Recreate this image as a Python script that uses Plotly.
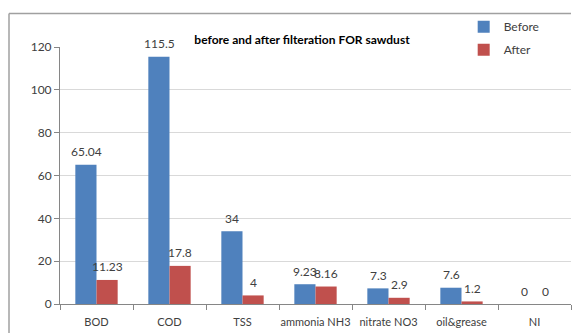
import plotly.graph_objects as go

# Water-quality parameters measured before and after sawdust filtration
categories = ["BOD", "COD", "TSS", "ammonia NH3", "nitrate NO3", "oil&grease", "NI"]
before_vals = [65.04, 115.5, 34, 9.23, 7.3, 7.6, 0]
after_vals = [11.23, 17.8, 4, 8.16, 2.9, 1.2, 0]
y_ticks = [0, 20, 40, 60, 80, 100, 120]

BLUE = "#4F81BD"
RED = "#C0504D"
FONT = "Lato, 'Open Sans', sans-serif"

fig = go.Figure()
fig.add_trace(go.Bar(name="Before", x=categories, y=before_vals, marker_color=BLUE,
                     marker_line_width=0, legendgroup="b"))
fig.add_trace(go.Bar(name="After", x=categories, y=after_vals, marker_color=RED,
                     marker_line_width=0, legendgroup="a"))

# value labels above each bar, shifted onto the matching bar of the group
bar_half = 10.5
for vals, shift in ((before_vals, -bar_half), (after_vals, bar_half)):
    for cat, v in zip(categories, vals):
        fig.add_annotation(x=cat, y=v, text=f"{v:g}", showarrow=False,
                           xshift=shift, yshift=13, yanchor="middle",
                           font=dict(family=FONT, size=12, color="#404040"))

# chart-area frame: left edge and top edge
frame = dict(color="#A0A0A0", width=1.5)
fig.add_shape(type="line", xref="paper", yref="paper",
              x0=-0.0998, x1=-0.0998, y0=-0.3, y1=1.13, line=frame, layer="above")
fig.add_shape(type="line", xref="paper", yref="paper",
              x0=-0.0998, x1=1.0, y0=1.13, y1=1.13, line=frame, layer="above")

fig.update_layout(
    width=576, height=333,
    margin=dict(l=60, r=5, t=47, b=29, autoexpand=False),
    paper_bgcolor="white", plot_bgcolor="white",
    barmode="group", bargap=0.42, bargroupgap=0,
    font=dict(family=FONT, size=11, color="#404040"),
    title=dict(text="<b>before and after filteration FOR sawdust</b>",
               x=302 / 576, xanchor="center", y=1 - 40 / 333, yanchor="middle",
               font=dict(family=FONT, size=12, color="black")),
    legend=dict(x=0.79, y=1.135, xanchor="left", yanchor="top",
                font=dict(family=FONT, size=12, color="#404040"),
                bgcolor="rgba(0,0,0,0)", itemwidth=30, tracegroupgap=4),
    showlegend=True,
)
fig.update_xaxes(showgrid=False, showline=True, linecolor="#868686", linewidth=1,
                 ticks="outside", tickson="boundaries", ticklen=5, tickcolor="#868686",
                 tickangle=0, automargin=False, ticklabelstandoff=8,
                 tickfont=dict(family=FONT, size=11, color="#404040"))
fig.update_yaxes(range=[0, 120], tickvals=y_ticks, showgrid=True, gridcolor="#D9D9D9",
                 showline=True, linecolor="#868686", linewidth=1, zeroline=False,
                 ticks="outside", ticklen=5, tickcolor="#868686", automargin=False,
                 tickfont=dict(family=FONT, size=12, color="#404040"))

fig.write_html("out.html")
